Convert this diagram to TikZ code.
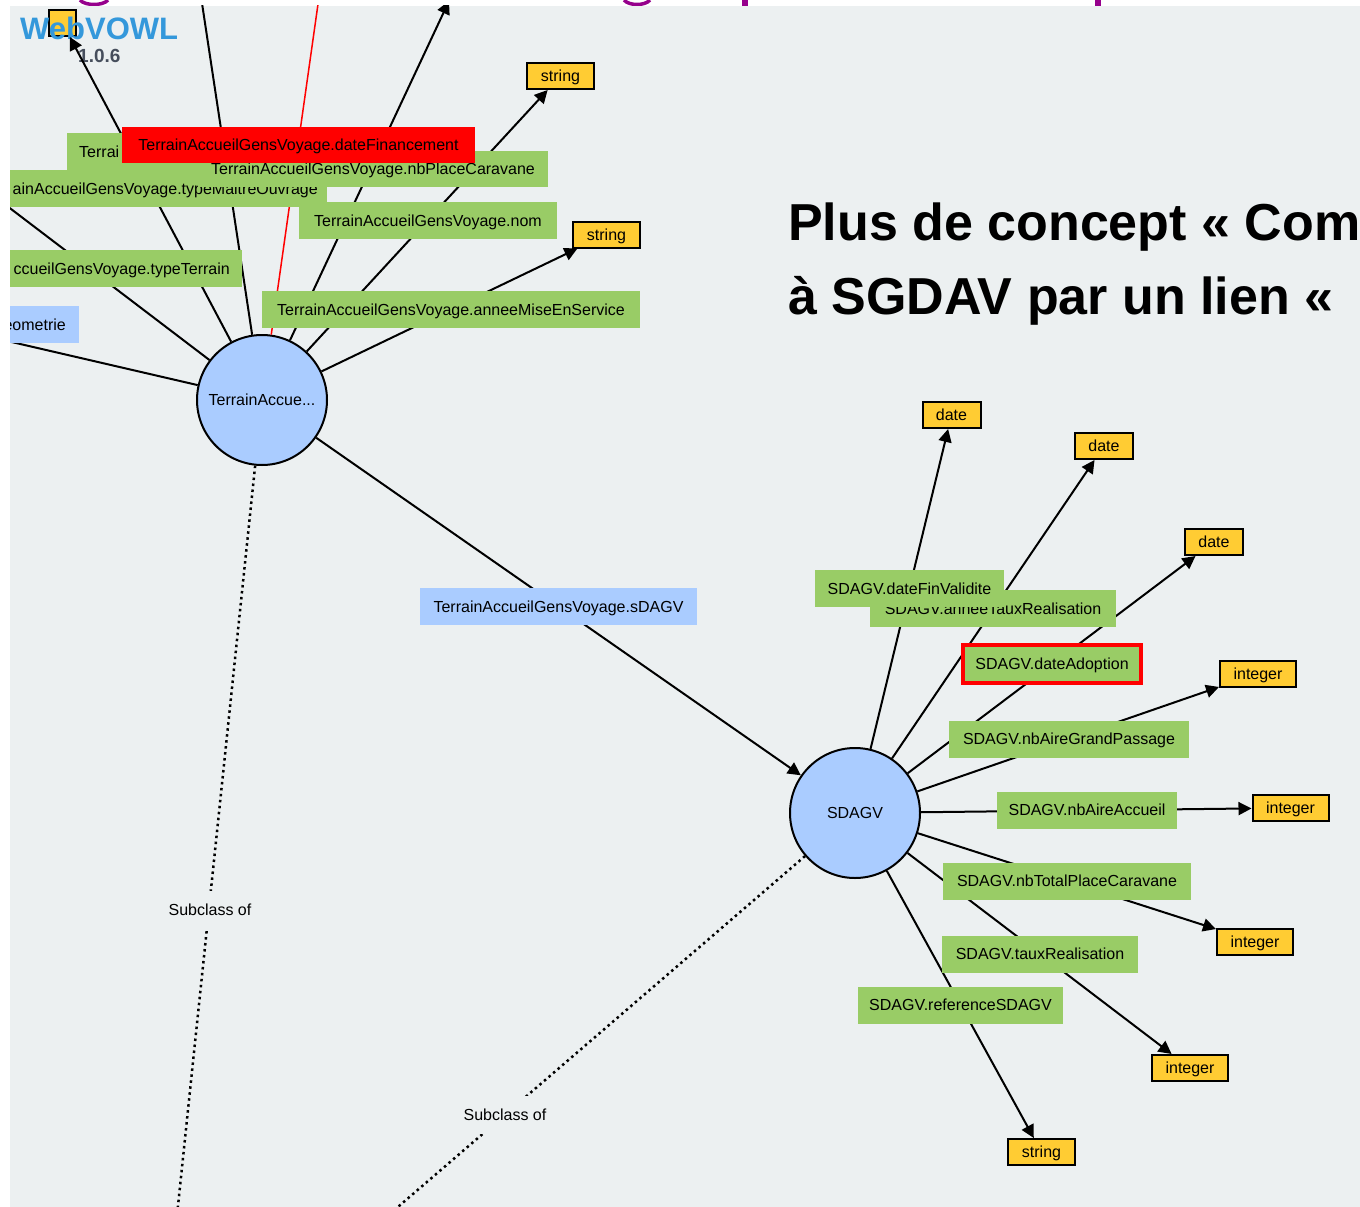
\documentclass[tikz,border=0pt]{standalone}
\usepackage{fontspec}
\setmainfont{Liberation Sans}
\usetikzlibrary{arrows.meta}
\definecolor{bg}{RGB}{236,240,241}
\definecolor{dpgreen}{RGB}{153,204,102}
\definecolor{clblue}{RGB}{170,204,255}
\definecolor{dtyellow}{RGB}{255,204,51}
\definecolor{logoblue}{RGB}{52,152,219}
\definecolor{logogray}{RGB}{70,78,92}
\definecolor{titlepurple}{RGB}{150,0,140}
\begin{document}
\begin{tikzpicture}[x=1pt,y=-1pt,
  lbl/.style={font=\fontsize{16}{16}\selectfont, text=black, text height=11.6pt, text depth=0pt},
  dprop/.style={lbl, fill=dpgreen, inner sep=0pt, minimum height=37pt},
  oprop/.style={lbl, fill=clblue, inner sep=0pt, minimum height=37pt},
  plainbox/.style={fill=dpgreen, inner sep=0pt, minimum height=37pt},
  bluebox/.style={fill=clblue, inner sep=0pt, minimum height=37pt},
  cuttext/.style={lbl, inner sep=0pt},
  dtype/.style={lbl, fill=dtyellow, draw=black, line width=2pt, inner sep=0pt, minimum height=26pt},
  cls/.style={lbl, circle, fill=clblue, draw=black, line width=2pt, minimum size=130pt, inner sep=0pt},
  link/.style={draw=black, line width=2pt},
  arr/.style={link, -{Triangle[length=13pt,width=13pt]}},
  subcl/.style={draw=black, line width=2.5pt, dash pattern=on 2.5pt off 3.5pt},
  sublbl/.style={lbl, fill=bg, inner xsep=4pt, inner ysep=13pt},
  titletext/.style={font=\fontsize{52}{52}\selectfont\bfseries, text=black, anchor=base west, inner sep=0pt}
]
\useasboundingbox (0,0) rectangle (1360,1207);
\fill[white] (0,0) rectangle (1360,1207);
% fragments of a cut purple heading above the picture
\draw[titlepurple, line width=3.5pt] (80,0) .. controls (85,6) and (103,6) .. (108,0);
\draw[titlepurple, line width=3.5pt] (624,0) .. controls (629,6) and (645,6) .. (650,0);
\fill[titlepurple] (742,0) rectangle (748,6);
\fill[titlepurple] (1095,0) rectangle (1101,6);
\fill[bg] (10,6) rectangle (1360,1207);

\begin{scope}
\clip (10,6) rectangle (1360,1207);

% classes
\node[cls] (c1) at (262,400) {TerrainAccue...};
\node[cls] (c2) at (855,813) {SDAGV};

% datatypes
\node[dtype, minimum width=27pt] (y0) at (62.5,23) {};
\node[dtype, minimum width=67pt] (s1) at (560.5,76) {string};
\node[dtype, minimum width=67pt] (s2) at (606.5,234.5) {string};
\node[dtype, minimum width=58pt] (d1) at (951.5,415) {date};
\node[dtype, minimum width=58pt] (d2) at (1104,446) {date};
\node[dtype, minimum width=58pt] (d3) at (1214,542) {date};
\node[dtype, minimum width=76pt] (i1) at (1258,673.5) {integer};
\node[dtype, minimum width=76pt] (i2) at (1290.5,808) {integer};
\node[dtype, minimum width=76pt] (i3) at (1255,941.5) {integer};
\node[dtype, minimum width=76pt] (i4) at (1190,1068) {integer};
\node[dtype, minimum width=67pt] (s3) at (1041.5,1152) {string};

% logo
\node[font=\fontsize{31}{31}\selectfont\bfseries, text=logoblue, anchor=base west, inner sep=0pt] (logo) at (20,40) {WebVOWL};
\node[font=\fontsize{19}{19}\selectfont\bfseries, text=logogray, anchor=base west, inner sep=0pt] (ver) at (78,63) {1.0.6};

% free ends outside the view
\coordinate (tA) at (449,1);
\coordinate (tD) at (200,-10);
\coordinate (tR) at (320,-10);
\coordinate (tL1) at (-10,193);
\coordinate (tL2) at (-10,337);
\coordinate (sub1end) at (176,1225);
\coordinate (sub2end) at (377,1225);

% connectors around TerrainAccue...
\draw[link] (c1) -- (tD);
\draw[red, line width=1.5pt] (c1) -- (tR);
\draw[arr] (c1) -- (tA);
\draw[arr] (c1) -- (y0);
\draw[arr] (c1) -- (s1);
\draw[arr] (c1) -- (s2);
\draw[link] (c1) -- (tL1);
\draw[link] (c1) -- (tL2);
\draw[arr] (c1) -- (c2);
\draw[subcl] (c1) -- (sub1end);
\draw[subcl] (c2) -- (sub2end);

% connectors around SDAGV
\draw[arr] (c2) -- (d1);
\draw[arr] (c2) -- (d2);
\draw[arr] (c2) -- (d3);
\draw[arr] (c2) -- (i1);
\draw[arr] (c2) -- (i2);
\draw[arr] (c2) -- (i3);
\draw[arr] (c2) -- (i4);
\draw[arr] (c2) -- (s3);

% property labels, TerrainAccue... side
\node[plainbox, minimum width=333pt] (bTerrai) at (233.5,151.5) {};
\node[cuttext, anchor=west] (tTerrai) at (79,152) {Terrai};
\node[plainbox, minimum width=317pt] (bMaitre) at (168.5,188.5) {};
\node[cuttext, anchor=east] (tMaitre) at (318,188.5) {ainAccueilGensVoyage.typeMaitreOuvrage};
\node[dprop, minimum width=350pt, minimum height=36pt] (lPlace) at (373,169) {TerrainAccueilGensVoyage.nbPlaceCaravane};
\node[lbl, fill=red, inner sep=0pt, minimum width=353pt, minimum height=36pt] (lFin) at (298.5,145) {TerrainAccueilGensVoyage.dateFinancement};
\node[dprop, minimum width=258pt] (lNom) at (428,220.5) {TerrainAccueilGensVoyage.nom};
\node[plainbox, minimum width=232pt] (bTerrain) at (126,268.5) {};
\node[cuttext, anchor=east] (tTerrain) at (230,268.5) {ccueilGensVoyage.typeTerrain};
\node[dprop, minimum width=378pt] (lMise) at (451,309.5) {TerrainAccueilGensVoyage.anneeMiseEnService};
\node[bluebox, minimum width=69pt] (bGeo) at (44.5,324.5) {};
\node[cuttext, anchor=east] (tGeo) at (66,324.5) {eometrie};

% object property label
\node[oprop, minimum width=277pt] (lSdagv) at (558.5,606.5) {TerrainAccueilGensVoyage.sDAGV};

% subclass labels
\node[sublbl] (sub1) at (210,910) {Subclass of};
\node[sublbl] (sub2) at (505,1115) {Subclass of};

% property labels, SDAGV side
\node[dprop, minimum width=246pt] (lTaux1) at (993,608.5) {SDAGV.anneeTauxRealisation};
\node[dprop, minimum width=189pt] (lFinVal) at (909.5,588.5) {SDAGV.dateFinValidite};
\node[dprop, draw=red, line width=4.5pt, minimum width=178pt, minimum height=38pt] (lAdopt) at (1052,664) {SDAGV.dateAdoption};
\node[dprop, minimum width=240pt] (lGrand) at (1069,739) {SDAGV.nbAireGrandPassage};
\node[dprop, minimum width=180pt] (lAccueil) at (1087,810) {SDAGV.nbAireAccueil};
\node[dprop, minimum width=248pt] (lTotal) at (1067,881) {SDAGV.nbTotalPlaceCaravane};
\node[dprop, minimum width=196pt] (lTaux) at (1040,954) {SDAGV.tauxRealisation};
\node[dprop, minimum width=205pt] (lRef) at (960.5,1005) {SDAGV.referenceSDAGV};
\end{scope}

% slide text over the picture
\node[titletext] (title1) at (788,240) {Plus de concept « Com};
\node[titletext] (title2) at (788,314) {à SGDAV par un lien «};
\end{tikzpicture}
\end{document}
